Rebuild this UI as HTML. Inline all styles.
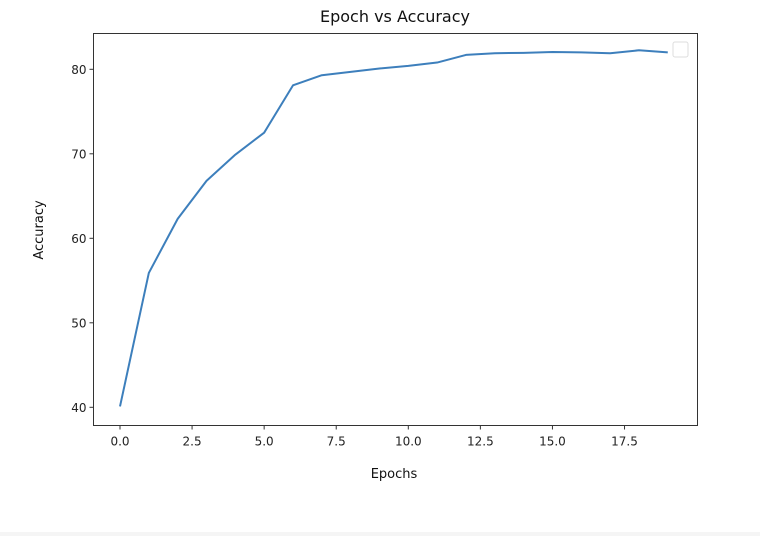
<!DOCTYPE html>
<html><head><meta charset="utf-8"><style>
html,body{margin:0;padding:0;background:#fff;width:760px;height:536px;overflow:hidden}
svg{display:block;font-family:"DejaVu Sans","Liberation Sans",sans-serif}
</style></head><body>
<svg width="760" height="536">
<rect x="0" y="532" width="760" height="4" fill="#f5f5f5"/>
<g id="plot"></g>
</svg>
<script>
const epochs=[0,1,2,3,4,5,6,7,8,9,10,11,12,13,14,15,16,17,18,19];
const accuracy=[40.1,55.9,62.3,66.8,69.9,72.5,78.1,79.3,79.7,80.1,80.4,80.8,81.7,81.9,81.95,82.05,82.0,81.9,82.25,82.0];
const xTicks=[0,2.5,5,7.5,10,12.5,15,17.5];
const xTickLabels=["0.0","2.5","5.0","7.5","10.0","12.5","15.0","17.5"];
const yTicks=[40,50,60,70,80];
const yTickLabels=["40","50","60","70","80"];
const L=93.5,R=697.5,T=33.5,B=425.5;
const xs=v=>120+v*28.83;
const ys=v=>69.3+(80-v)*8.45;
const NS="http://www.w3.org/2000/svg";
const g=document.getElementById('plot');
function mk(t,a,txt){const e=document.createElementNS(NS,t);for(const k in a)e.setAttribute(k,a[k]);if(txt!==undefined)e.textContent=txt;g.appendChild(e);return e;}
let e;
e=mk('rect',{x:L,y:T,width:R-L,height:B-T,fill:'none',stroke:'#333','stroke-width':1});


xTicks.forEach((v,i)=>{
 e=mk('line',{x1:xs(v),x2:xs(v),y1:B,y2:B+4,stroke:'#333'});
 
 
 e=mk('text',{x:xs(v),y:B+20,'text-anchor':'middle','font-size':12,fill:'#222'},xTickLabels[i]);
 
 
});
yTicks.forEach((v,i)=>{
 e=mk('line',{x1:L-4,x2:L,y1:ys(v),y2:ys(v),stroke:'#333'});
 
 
 e=mk('text',{x:L-7,y:ys(v)+4.5,'text-anchor':'end','font-size':12,fill:'#222'},yTickLabels[i]);
 
 
});
e=mk('polyline',{points:epochs.map((x,i)=>xs(x)+','+ys(accuracy[i])).join(' '),fill:'none',stroke:'#3d7fbc','stroke-width':2,'stroke-linejoin':'round'});


e=mk('rect',{x:673,y:42,width:15,height:15,rx:2,fill:'#fff',stroke:'#ddd'});


e=mk('text',{x:395,y:22,'text-anchor':'middle','font-size':16,fill:'#111'},'Epoch vs Accuracy');


e=mk('text',{x:394,y:478,'text-anchor':'middle','font-size':13,fill:'#111'},'Epochs');


e=mk('text',{x:0,y:0,'text-anchor':'middle','font-size':13,fill:'#111',transform:'translate(43,230) rotate(-90)'},'Accuracy');


</script>
</body></html>
